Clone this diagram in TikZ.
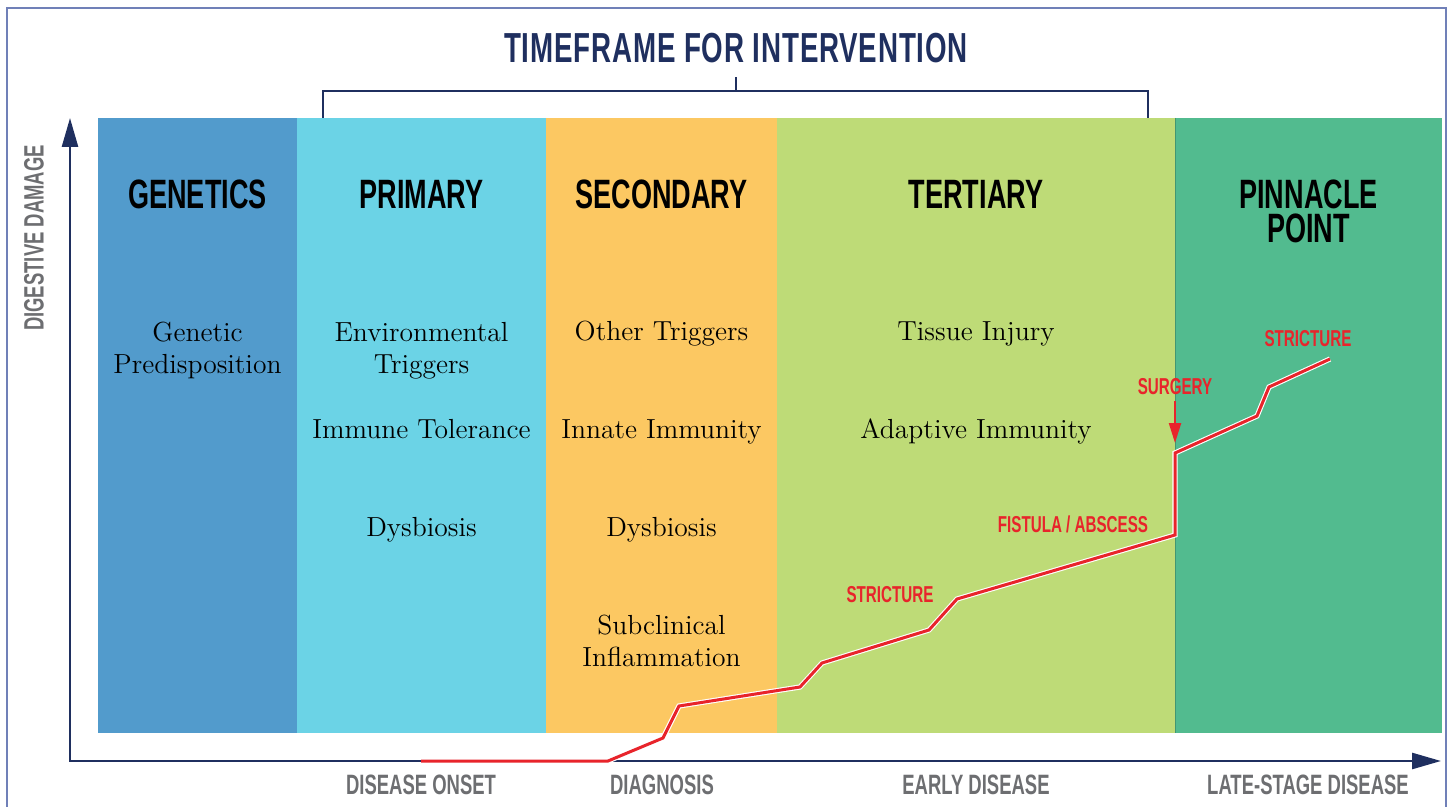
\documentclass[tikz,border=0pt]{standalone}
\usepackage{fontspec}
\newfontfamily\condfont[FakeStretch=0.66]{Liberation Sans}
\newfontfamily\titlefont[FakeStretch=0.66,LetterSpace=2]{Liberation Sans}
\usetikzlibrary{arrows.meta}
\definecolor{cgen}{HTML}{529BCC}
\definecolor{cpri}{HTML}{6BD3E6}
\definecolor{csec}{HTML}{FCC862}
\definecolor{cter}{HTML}{BEDB77}
\definecolor{cpin}{HTML}{52BB8F}
\definecolor{navy}{HTML}{1F2F5F}
\definecolor{axgray}{HTML}{6D6E71}
\definecolor{framec}{HTML}{7080B8}
\definecolor{dred}{HTML}{E8242B}
\begin{document}
\begin{tikzpicture}[x=0.5pt,y=-0.5pt,
  titlestyle/.style={font=\titlefont\bfseries\fontsize{21}{21}\selectfont, text=navy, inner sep=0pt},
  hdr/.style={font=\condfont\bfseries\fontsize{20.5}{17}\selectfont, text=black, inner sep=0pt, align=center},
  body/.style={font=\fontsize{13.8}{16}\selectfont, anchor=base, align=center, inner sep=0pt},
  axlbl/.style={font=\condfont\bfseries\fontsize{14}{14}\selectfont, text=axgray, inner sep=0pt},
  redlbl/.style={font=\condfont\bfseries\fontsize{11.5}{11.5}\selectfont, text=dred, inner sep=0pt},
  axisline/.style={draw=navy, line width=1.3pt, line join=miter,
     {Triangle[length=14.5pt,width=8pt]}-{Triangle[length=14.5pt,width=8pt]}},
  bracketline/.style={draw=navy, line width=1pt},
  diseaseline/.style={draw=dred, line width=1.5pt, line join=miter,
     preaction={draw=white, line width=2.6pt, line join=miter}},
  surgarrow/.style={draw=dred, line width=1.1pt, -{Triangle[length=10pt,width=6pt]}}
]
\useasboundingbox (0,0) rectangle (1450,807);
% frame
\draw[framec, line width=0.8pt] (7,820) -- (7,8) -- (1446,8) -- (1446,820);
% columns
\fill[cgen] (98,118) rectangle (297,733);
\fill[cpri] (297,118) rectangle (546,733);
\fill[csec] (546,118) rectangle (777,733);
\fill[cter] (777,118) rectangle (1175,733);
\fill[cpin] (1175,118) rectangle (1442,733);
\draw[cpin!80!black, line width=0.3pt] (1175,118) -- (1175,733);
% title and bracket
\node[titlestyle] (title) at (736,48) {TIMEFRAME FOR INTERVENTION};
\coordinate (bl) at (323,118);
\coordinate (blt) at (323,91);
\coordinate (br) at (1148,118);
\coordinate (brt) at (1148,91);
\coordinate (bm) at (736,91);
\coordinate (bmt) at (736,77);
\draw[bracketline] (bl) -- (blt) -- (brt) -- (br);
\draw[bracketline] (bm) -- (bmt);
% headers
\node[hdr] (hgen) at (197.5,194) {GENETICS};
\node[hdr] (hpri) at (421.5,194) {PRIMARY};
\node[hdr] (hsec) at (661.5,194) {SECONDARY};
\node[hdr] (hter) at (976,194) {TERTIARY};
\node[hdr] (hpin) at (1308.5,211.5) {PINNACLE\\POINT};
% body text
\node[body] (g1) at (197.5,373) {Genetic\\Predisposition};
\node[body] (p1) at (421.5,373) {Environmental\\Triggers};
\node[body] (p2) at (421.5,438) {Immune Tolerance};
\node[body] (p3) at (421.5,536) {Dysbiosis};
\node[body] (s1) at (661.5,341) {Other Triggers};
\node[body] (s2) at (661.5,438) {Innate Immunity};
\node[body] (s3) at (661.5,536) {Dysbiosis};
\node[body] (s4) at (661.5,666) {Subclinical\\Inflammation};
\node[body] (t1) at (976,341) {Tissue Injury};
\node[body] (t2) at (976,438) {Adaptive Immunity};
% axes
\coordinate (O) at (70,761);
\coordinate (ytip) at (70,118);
\coordinate (xtip) at (1441,761);
\draw[axisline] (ytip) -- (O) -- (xtip);
\node[axlbl, rotate=90] (ylab) at (34,238) {DIGESTIVE DAMAGE};
\node[axlbl] (x1) at (421,785) {DISEASE ONSET};
\node[axlbl] (x2) at (662,785) {DIAGNOSIS};
\node[axlbl] (x3) at (976,785) {EARLY DISEASE};
\node[axlbl] (x4) at (1308,785) {LATE-STAGE DISEASE};
% disease progression line
\coordinate (d0) at (421,761);
\coordinate (d1) at (608,761);
\coordinate (d2) at (663,738);
\coordinate (d3) at (679,706);
\coordinate (d4) at (800,687);
\coordinate (d5) at (822,663);
\coordinate (d6) at (929,630);
\coordinate (d7) at (957,599);
\coordinate (d8) at (1175,535);
\coordinate (d9) at (1175,453);
\coordinate (d10) at (1257,416);
\coordinate (d11) at (1269,387);
\coordinate (d12) at (1330,359);
\draw[diseaseline] (d0) -- (d1) -- (d2) -- (d3) -- (d4) -- (d5) -- (d6) -- (d7) -- (d8) -- (d9) -- (d10) -- (d11) -- (d12);
% red labels
\node[redlbl] (str1) at (890,595) {STRICTURE};
\node[redlbl] (fist) at (1073,524) {FISTULA / ABSCESS};
\node[redlbl] (surg) at (1175,387) {SURGERY};
\node[redlbl] (str2) at (1308,339) {STRICTURE};
\coordinate (surgtip) at (1175,443);
\draw[surgarrow] ([yshift=-2.5pt]surg.south) -- (surgtip);
\end{tikzpicture}
\end{document}
